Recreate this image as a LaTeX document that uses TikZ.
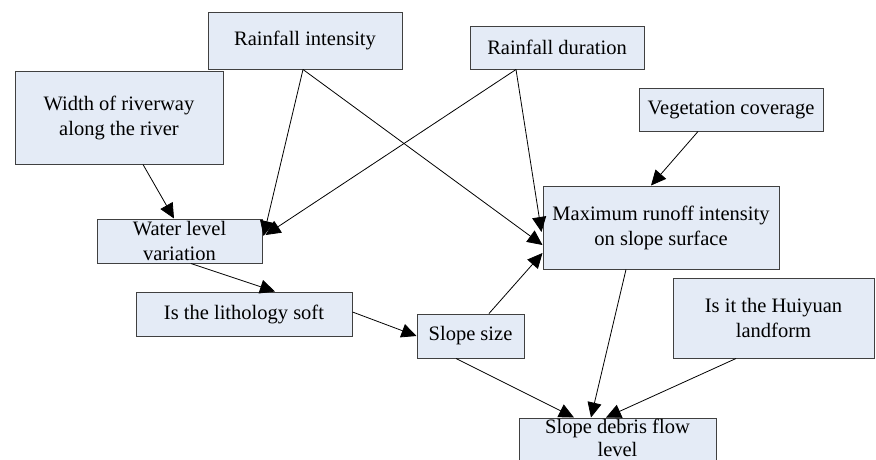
\documentclass[tikz,border=0pt]{standalone}
\usepackage{fontspec}
\setmainfont{Liberation Serif}
\usetikzlibrary{arrows.meta}
\definecolor{boxfill}{HTML}{E4EBF6}
\definecolor{boxline}{HTML}{404040}
\begin{document}
\begin{tikzpicture}[x=1pt,y=-1pt,
  box/.style={draw=boxline,fill=boxfill,line width=1pt,inner sep=0pt,align=center,
    font=\fontsize{20.5}{25}\selectfont},
  conn/.style={line width=0.8pt,-{Triangle[length=15pt,width=14pt]}}]
\useasboundingbox (0,0) rectangle (876,459);
\clip (0,0) rectangle (876,459);
\node[box,minimum width=194pt,minimum height=57pt] (ri) at (305,40.5) {Rainfall intensity};
\node[box,minimum width=174pt,minimum height=43pt] (rd) at (557,47.5) {Rainfall duration};
\node[box,minimum width=208pt,minimum height=93pt] (wr) at (119,117.5) {Width of riverway\\along the river};
\node[box,minimum width=184pt,minimum height=43pt] (vc) at (731,109.5) {Vegetation coverage};
\node[box,minimum width=236pt,minimum height=83pt] (mr) at (661,227.5) {Maximum runoff intensity\\on slope surface};
\node[box,minimum width=165pt,minimum height=44pt] (wl) at (179.5,241) {Water level\\variation};
\node[box,minimum width=216pt,minimum height=44pt] (ls) at (244,314) {Is the lithology soft};
\node[box,minimum width=107pt,minimum height=44pt] (ss) at (470.5,336) {Slope size};
\node[box,minimum width=201pt,minimum height=80pt] (hy) at (773.5,318) {Is it the Huiyuan\\landform};
\node[box,minimum width=197pt,minimum height=50pt,text depth=11pt,
  font=\fontsize{20.5}{23}\selectfont] (df) at (617.5,443) {Slope debris flow\\level};

\draw[conn] ([xshift=24pt]wr.south) -- ([xshift=-5.5pt]wl.north);
\draw[conn] ([xshift=-2pt]ri.south) -- ([xshift=1pt,yshift=5pt]wl.east);
\draw[conn] ([xshift=-41pt]rd.south) -- ([xshift=3pt,yshift=6pt]wl.east);
\draw[conn] ([xshift=-2pt]ri.south) -- ([yshift=-17.5pt]mr.west);
\draw[conn] ([xshift=-41pt]rd.south) -- ([xshift=-1pt,yshift=-4.5pt]mr.west);
\draw[conn] ([xshift=-33pt]vc.south) -- ([xshift=-10pt]mr.north);
\draw[conn] ([xshift=11.5pt]wl.south) -- ([xshift=31pt]ls.north);
\draw[conn] ([yshift=2pt]ls.east) -- (ss.west);
\draw[conn] ([xshift=18.5pt]ss.north) -- ([yshift=-25.5pt]mr.west);
\draw[conn] ([xshift=-14.5pt]ss.south) -- ([xshift=-43.5pt]df.north);
\draw[conn] ([xshift=-35pt]mr.south) -- ([xshift=-26.5pt]df.north);
\draw[conn] ([xshift=-37.5pt]hy.south) -- ([xshift=-11.5pt]df.north);
\end{tikzpicture}
\end{document}
